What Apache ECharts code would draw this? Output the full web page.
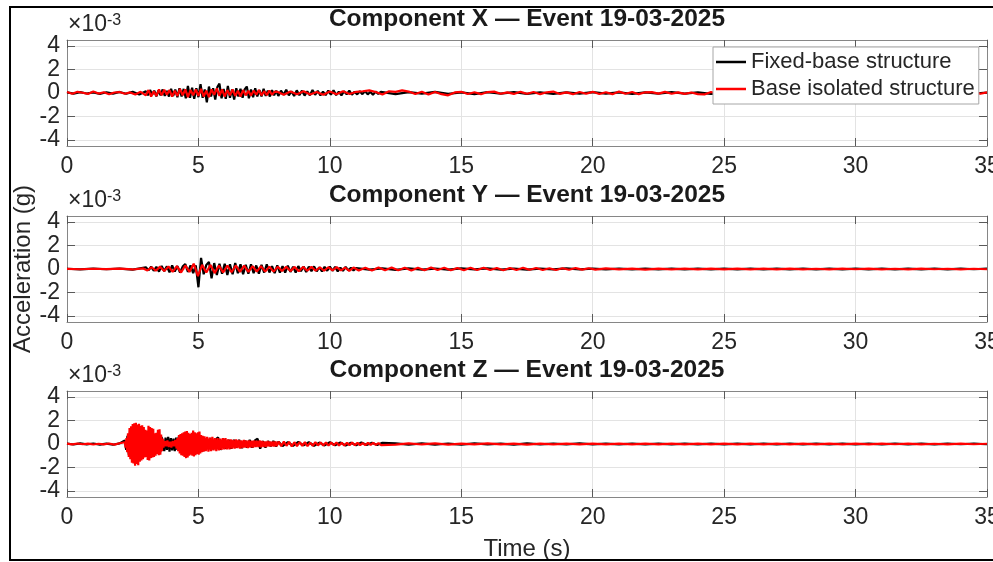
<!DOCTYPE html>
<html>
<head>
<meta charset="utf-8">
<script src="https://cdn.jsdelivr.net/npm/echarts@6/dist/echarts.min.js"></script>
<style>html,body{margin:0;padding:0;background:#fff;overflow:hidden}#c{width:993px;height:562px}</style>
</head>
<body>
<div id="c"></div>
<script>
// ---------- labels ----------
const componentNames = ['X', 'Y', 'Z'];
const eventDate = '19-03-2025';
const seriesNames = ['Fixed-base structure', 'Base isolated structure'];
const xTicks = [0, 5, 10, 15, 20, 25, 30, 35];
const yTicks = [-4, -2, 0, 2, 4];
const yLimits = [-4.5, 4.5];   // ×10^-3 g
const xLimits = [0, 35];       // s

// ---------- data: segments [startTime (s), step (s), values (×10^-3 g)] ----------
const fixedX = [
  [0, 0.25, [0.06,-0.05,0.08,-0.04,0.05,-0.07,0.06,-0.05,0.09,-0.06,0.1,-0.12]],
  [3, 0.08, [0.15,-0.2,0.25,-0.15,0.2,-0.28,0.22,-0.2,0.3,-0.25,
             0.18,-0.3,0.35,-0.25,0.3,-0.35,0.4,-0.3,0.35,-0.45,
             0.6,-0.4,0.45,-0.5,0.4,-0.35,0.75,-0.4,0.3,-0.8,
             0.55,-0.3,0.4,-0.55,0.5,0.8,-0.45,0.35,-0.5,0.6,
             -0.4,0.3,-0.55,0.4,-0.3,0.35,-0.4,0.3,0.55,-0.45,
             0.3,-0.35,0.4,-0.3,0.25,-0.3,0.35,-0.25,0.2,-0.3,
             0.25,-0.2,0.2]],
  [8.04, 0.1, [-0.25,0.2,-0.15,0.28,-0.2,0.15,-0.25,0.22,-0.18,0.2,
               -0.22,0.15,-0.2,0.25,-0.15,0.18,-0.2,0.12,-0.18,0.2,
               -0.15,0.22,-0.18,0.12,-0.2,0.15,-0.12,0.2,-0.15,0.1,
               -0.12,0.15,-0.1,0.18,-0.12,0.1,-0.15,0.12,-0.08,0.1]],
  [12, 0.5, [0.05,-0.1,0.08,-0.06,0.1,-0.08,0.05,-0.09,0.07,-0.05,
             0.08,-0.07,0.06,-0.08,0.05,-0.06,0.07,-0.05,0.06,-0.07,
             0.05,-0.06,0.07,-0.05,0.06,-0.08,0.05,-0.06,0.07,-0.05,
             0.06,-0.07,0.05,-0.06,0.07,-0.05,0.06,-0.07,0.05,-0.06,
             0.07,-0.05,0.06,-0.07,0.05,-0.06,0.04]]
];
const isolatedX = [
  [0, 0.2, [0.08,-0.06,0.1,0.02,-0.08,0.12,-0.05,0.06,-0.1,0.04,0.08,-0.06,0.05,-0.12,0.1]],
  [3, 0.1, [-0.2,0.25,-0.3,0.15,-0.25,0.3,-0.2,0.28,-0.15,0.25,
            -0.3,0.2,-0.25,0.35,-0.2,0.3,-0.35,0.25,-0.2,0.3,
            -0.25,0.35,-0.3,0.2,-0.35,0.3,-0.15,0.4,-0.25,0.3,
            -0.3,0.25,-0.2,0.3,-0.25,0.2,-0.3,0.25,-0.2,0.18,
            -0.22,0.2,-0.15,0.25,-0.2,0.15,-0.18,0.2,-0.15,0.12]],
  [8, 0.25, [0.1,-0.15,0.12,-0.1,0.15,-0.12,0.08,-0.15,0.12,-0.1,0.14,-0.08,
             0.1,0.15,0.22,0.08,-0.12,0.15,0.1,0.22,0.12,-0.08,0.1,-0.12,
             0.08,-0.1,-0.2,0.05,0.1,-0.08,0.06,-0.1,0.08,0.12,-0.06,0.05,
             -0.08,0.1,-0.06,0.08,-0.1,0.06,0.12,-0.08,0.05,-0.1,0.08,-0.06,
             0.1,-0.08,0.06,-0.1,0.12,-0.06,0.08,-0.1,0.06,0.08,-0.05,0.1,
             -0.06,0.05,-0.08,0.04,-0.1,-0.12,0.08,-0.06,0.1,-0.05,0.08,-0.1,
             0.06,-0.08,0.1,-0.05,0.08,-0.06,0.1,-0.08,0.05,-0.1,0.08,-0.06,
             0.1,-0.05,0.08,-0.1,0.06,-0.08,0.1,-0.06,0.08,-0.05,0.1,-0.08,
             0.06,-0.1,0.08,-0.06,0.1,-0.05,0.08,-0.1,0.06,-0.08,0.1,-0.06,0.05]]
];
const fixedY = [
  [0, 0.5, [0.02,-0.03,0.03,-0.02,0.04,-0.05]],
  [3, 0.1, [0.15,-0.12,0.2,-0.15,0.18,-0.22,0.25,-0.18,0.22,-0.28,
            0.3,-0.22,0.25,-0.3,0.2,0.42,-0.25,0.3,-0.35,0.3,
            -1.55,0.95,-0.45,0.35,0.6,-0.8,0.5,-0.5,0.45,-0.4,
            0.45,-0.5,0.4,-0.45,0.5,-0.35,0.4,-0.45,0.35,-0.4,
            0.4,-0.35,0.3,-0.4,0.35,-0.3,0.4,-0.3,0.25,-0.35,
            0.3,-0.3,0.25,-0.3,0.28,-0.25,0.2,-0.3,0.25,-0.2,
            0.22,-0.25,0.2,-0.18,0.22,-0.2,0.15,-0.2,0.18,-0.15,
            0.2,-0.15,0.18,-0.2,0.12,-0.15,0.18,-0.12,0.1,-0.12]],
  [11, 0.5, [0.08,-0.06,0.05,-0.07,0.06,-0.05,0.04,-0.06,0.05,-0.04,
             0.05,-0.05,0.04,-0.05,0.04,-0.04,0.05,-0.03,0.04,-0.04,
             0.03,-0.04,0.04,-0.03,0.04,-0.03,0.03,-0.04,0.03,-0.03,
             0.04,-0.03,0.03,-0.03,0.04,-0.03,0.03,-0.04,0.03,-0.03,
             0.03,-0.03,0.04,-0.03,0.03,-0.03,0.03,-0.02,0.03]]
];
const isolatedY = [
  [0, 0.5, [0.01,-0.02,0.02,-0.01,0.03,-0.04]],
  [2.9, 0.16, [0.05,-0.12,0.15,-0.15,0.2,-0.18,0.22,-0.25,0.25,-0.3,
               0.3,-0.25,0.45,-0.6,0.35,-0.3,0.35,-0.35,0.3,-0.3,
               0.3,-0.28,0.3,-0.25,0.28,-0.25,0.25,-0.22,0.25,-0.22,
               0.2,-0.22,0.2,-0.18,0.2,-0.18,0.18,-0.2,0.18,-0.15,
               0.18,-0.15,0.15,-0.15,0.15,-0.12,0.15,-0.12,0.12,-0.15,0.12]],
  [11.1, 0.25, [-0.12,0.1,-0.12,0.12,-0.1,0.12,-0.1,0.1,-0.12,0.1,
                -0.1,0.12,-0.08,0.1,-0.1,0.08,-0.1,0.1,-0.08,0.1,
                -0.08,0.08,-0.1,0.08,-0.08,0.1,-0.06,0.08,-0.08,0.06,
                -0.08,0.06,-0.06,0.08,-0.05,0.06,-0.05]],
  [20.5, 0.5, [0.05,-0.04,0.04,-0.05,0.03,-0.04,0.04,-0.03,0.03,-0.04,
               0.03,-0.03,0.04,-0.03,0.03,-0.03,0.02,-0.03,0.03,-0.02,
               0.03,-0.03,0.02,-0.03,0.03,-0.02,0.02,-0.03,0.02,-0.02]]
];
const fixedZ = [
  [0, 0.25, [0.03,-0.04,0.05,-0.03,0.04,-0.05,0.03,-0.06,0.05]],
  [2.2, 0.05, [0.3,-0.5,0.7,-0.9,1.1,-1.0,1.2,-1.1,0.9,-1.2,1.0,-0.8,1.1,-0.9,0.8,
               -1.0,0.9,-0.7,1.0,-0.8,0.7,-0.9,0.6,-0.8,0.7,-0.6,0.5,-0.7,0.6]],
  [3.65, 0.05, [0.45,-0.6,0.55,-0.5,0.6,-0.65,0.5,-0.55,0.45,-0.6,0.55,-0.5,0.6,-0.55]],
  [4.35, 0.05, [0.7,-0.8,0.8,-0.75,0.85,-0.7,0.75,-0.8,0.7,-0.65,0.8,-0.7,0.6,-0.75,0.65,-0.6,0.55,-0.6]],
  [5.25, 0.1, [0.45,-0.4,0.5,-0.45,0.4,0.55,-0.5,0.45,-0.4,0.35,
               -0.4,0.35,-0.3,0.35,-0.35,0.3,-0.3,0.35,-0.3,0.3,
               0.45,-0.4,0.25,-0.3,0.25,-0.2,0.25,-0.2,0.2]],
  [8.2, 0.2, [-0.18,0.15,-0.15,0.18,-0.12,0.15,-0.15,0.12,-0.12,0.15,
              -0.1,0.12,-0.12,0.1,-0.1,0.12,-0.08,0.1,-0.08,0.1]],
  [12.5, 0.5, [0.06,-0.05,0.05,-0.06,0.04,-0.05,0.05,-0.04,0.04,-0.05,
               0.05,-0.04,0.04,-0.04,0.05,-0.03,0.04,-0.04,0.03,-0.04,
               0.04,-0.03,0.04,-0.04,0.03,-0.03,0.04,-0.03,0.03,-0.04,
               0.03,-0.03,0.04,-0.03,0.03,-0.03,0.03,-0.04,0.03,-0.03,
               0.03,-0.03,0.03,-0.02,0.03,-0.02]]
];
const isolatedZ = [
  [0, 0.2, [0.03,-0.03,0.04,-0.02,0.03,-0.04,0.02,-0.03,0.04,-0.05,0.06]],
  [2.2, 0.03, [0.15,-0.3,0.5,-0.7,0.9,-1.1,1.35,-1.3,1.5,-1.6,
               1.7,-1.65,1.75,-1.85,1.8,-1.7,1.65,-1.8,1.72,-1.5,
               1.55,-1.4,1.6,-1.3,1.45,-1.15,1.2,-1.1,1.15,-1.35,
               1.55,-1.4,1.45,-1.2,1.35,-1.15,1.3,-1.1,0.9,-1.0,
               0.95,-0.85,1.2,-0.95,1.25,-0.9,0.8,-0.6,0.45]],
  [3.67, 0.05, [-0.3,0.25,-0.2,0.3,-0.25,0.2,-0.3,0.25,-0.2,0.35,-0.4]],
  [4.2, 0.03, [0.5,-0.6,0.75,-0.8,0.85,-0.95,0.9,-1.0,1.0,-1.1,
               1.05,-1.2,1.1,-1.15,0.95,-1.0,0.85,-0.9,0.95,-1.0,
               1.15,-1.05,1.0,-0.95,0.9,-0.85,1.0,-0.9,1.05,-0.8,
               0.75,-0.7,0.7,-0.65]],
  [5.23, 0.05, [0.65,-0.6,0.6,-0.65,0.55,-0.6,0.6,-0.55,0.5,-0.6,
                0.5,-0.55,0.45,-0.5,0.5,-0.45,0.5,-0.45,0.4,-0.45,
                0.4,-0.4,0.35,-0.4,0.4,-0.35,0.35,-0.38,0.3,-0.35,
                0.35,-0.3,0.3,-0.35,0.3,-0.3,0.28,-0.3,0.3,-0.25,
                0.28,-0.25,0.3,-0.28,0.25,-0.25,0.22,-0.25,0.25,-0.2,
                0.22,-0.22,0.2,-0.2,0.22,-0.18]],
  [8.05, 0.1, [0.2,-0.18,0.2,-0.15,0.18,-0.2,0.15,-0.18,0.15,-0.15,
               0.15,-0.18,0.12,-0.15,0.15,-0.12,0.14,-0.12,0.12,-0.14,
               0.12,-0.1,0.12,-0.12,0.1,-0.12,0.1,-0.1,0.12,-0.1,
               0.1,-0.1,0.08,-0.1,0.1,-0.08,0.1,-0.08,0.08,-0.1]],
  [12.5, 0.5, [-0.05,0.06,-0.04,0.05,-0.05,0.04,-0.04,0.05,-0.04,0.04,
               -0.05,0.04,-0.03,0.04,-0.04,0.03,-0.04,0.04,-0.03,0.03,
               -0.04,0.03,-0.03,0.04,-0.03,0.03,-0.03,0.04,-0.03,0.03,
               -0.03,0.03,-0.04,0.03,-0.03,0.03,-0.03,0.03,-0.02,0.03,
               -0.03,0.02,-0.03,0.03,-0.02,0.02]]
];

// ---------- build ----------
function expand(segs) {
  const out = [];
  segs.forEach(([t0, dt, vals]) => vals.forEach((v, i) => out.push([+(t0 + i * dt).toFixed(3), v])));
  return out;
}
const panelData = [[fixedX, isolatedX], [fixedY, isolatedY], [fixedZ, isolatedZ]];
const colors = ['#000000', '#ff0000'];

const FONT = '"Liberation Sans", Arial, Helvetica, sans-serif';
const TXT = '#262626';
const BOX = '#868686';
const TICK = '#5a5a5a';
const GRIDC = '#e3e3e3';
const G_LEFT = 67, G_WIDTH = 920, G_HEIGHT = 106;
const G_TOPS = [40, 216, 391];

const grids = [], xAxes = [], yAxes = [], series = [];
G_TOPS.forEach((top, i) => {
  grids.push({ left: G_LEFT, top: top, width: G_WIDTH, height: G_HEIGHT, containLabel: false, outerBoundsMode: 'none' });
  xAxes.push({
    gridIndex: i, type: 'value', position: 'bottom', min: xLimits[0], max: xLimits[1],
    axisLine: { show: true, onZero: false, lineStyle: { color: BOX, width: 1 } },
    axisTick: { show: true, inside: true, length: 8, customValues: xTicks, lineStyle: { color: TICK } },
    axisLabel: { customValues: xTicks, fontSize: 23, color: TXT, margin: 9, fontFamily: FONT, hideOverlap: false },
    splitLine: { show: true, lineStyle: { color: GRIDC, width: 1 } },
    name: i === 2 ? 'Time (s)' : '', nameLocation: 'middle', nameGap: 40,
    nameTextStyle: { fontSize: 24, color: TXT, fontFamily: FONT }
  });
  xAxes.push({
    gridIndex: i, type: 'value', position: 'top', min: xLimits[0], max: xLimits[1],
    axisLine: { show: true, onZero: false, lineStyle: { color: BOX, width: 1 } },
    axisTick: { show: true, inside: true, length: 8, customValues: xTicks, lineStyle: { color: TICK } },
    axisLabel: { show: false },
    splitLine: { show: false },
    name: 'Component ' + componentNames[i] + ' \u2014 Event ' + eventDate,
    nameLocation: 'middle', nameGap: 8,
    nameTextStyle: { fontSize: 24.5, fontWeight: 'bold', color: '#1a1a1a', fontFamily: FONT, verticalAlign: 'bottom' }
  });
  yAxes.push({
    gridIndex: i, type: 'value', position: 'left', min: yLimits[0], max: yLimits[1],
    axisLine: { show: true, onZero: false, lineStyle: { color: BOX, width: 1 } },
    axisTick: { show: true, inside: true, length: 8, customValues: yTicks, lineStyle: { color: TICK } },
    axisLabel: { customValues: yTicks, fontSize: 23, color: TXT, margin: 7, fontFamily: FONT },
    splitLine: { show: true, lineStyle: { color: GRIDC, width: 1 } },
    name: '{a|\u00d710}{b|-3}', nameLocation: 'end', nameGap: 4,
    nameTextStyle: {
      align: 'left', verticalAlign: 'bottom', padding: [0, 0, 0, 1],
      rich: {
        a: { fontSize: 23, color: TXT, fontFamily: FONT },
        b: { fontSize: 16, color: TXT, fontFamily: FONT, verticalAlign: 'top', lineHeight: 16 }
      }
    }
  });
  yAxes.push({
    gridIndex: i, type: 'value', position: 'right', min: yLimits[0], max: yLimits[1],
    axisLine: { show: true, onZero: false, lineStyle: { color: BOX, width: 1 } },
    axisTick: { show: true, inside: true, length: 8, customValues: yTicks, lineStyle: { color: TICK } },
    axisLabel: { show: false },
    splitLine: { show: false }
  });
  panelData[i].forEach((segs, k) => {
    series.push({
      name: seriesNames[k], type: 'line', xAxisIndex: 2 * i, yAxisIndex: 2 * i,
      data: expand(segs), symbol: 'none', showSymbol: false, smooth: false,
      lineStyle: { color: colors[k], width: 2.2 }, itemStyle: { color: colors[k] },
      emphasis: { disabled: true }, silent: true, z: 2 + k
    });
  });
});

const chart = echarts.init(document.getElementById('c'), null, { renderer: 'canvas' });
chart.setOption({
  animation: false,
  backgroundColor: '#ffffff',
  grid: grids, xAxis: xAxes, yAxis: yAxes, series: series,
  legend: {
    data: seriesNames.map((n) => ({ name: n, icon: 'rect' })),
    left: 713, top: 47, orient: 'vertical',
    itemWidth: 30, itemHeight: 2.5, itemGap: 5,
    padding: [4, 4, 4, 3],
    backgroundColor: '#ffffff', borderColor: '#a6a6a6', borderWidth: 1, borderRadius: 0,
    textStyle: { fontSize: 22, color: TXT, fontFamily: FONT, lineHeight: 22 },
    selectedMode: false
  },
  graphic: [
    { type: 'text', x: 23, y: G_TOPS[1] + G_HEIGHT / 2, rotation: Math.PI / 2, silent: true,
      style: { text: 'Acceleration (g)', fontSize: 24, fill: TXT, align: 'center', verticalAlign: 'middle', fontFamily: FONT } },
    { type: 'rect', silent: true, z: 100,
      shape: { x: 10, y: 7, width: 1000, height: 553 },
      style: { fill: 'none', stroke: '#000', lineWidth: 2 } }
  ]
});
</script>
</body>
</html>
